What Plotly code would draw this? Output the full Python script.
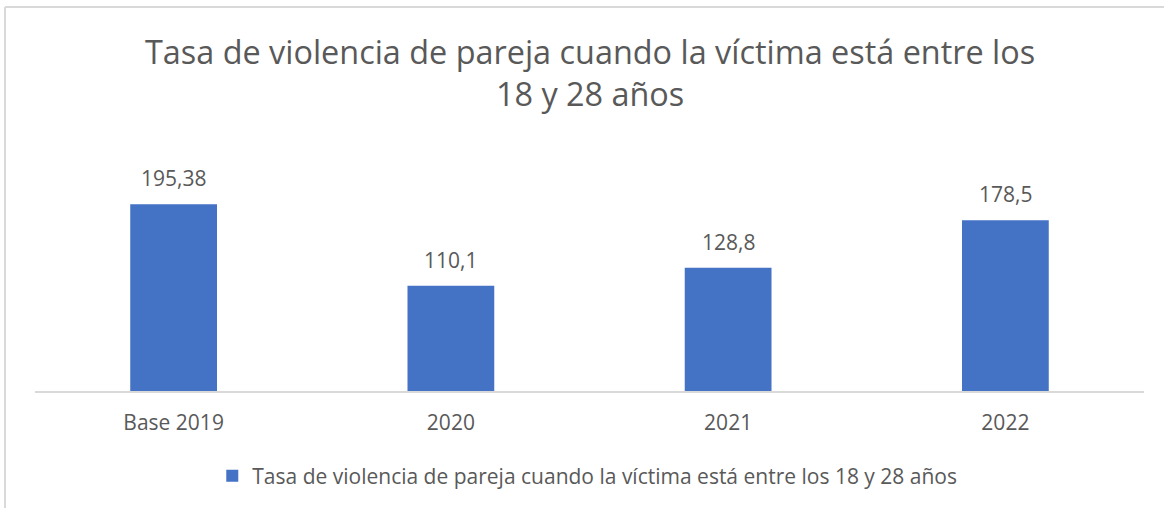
import plotly.graph_objects as go

categories = ["Base 2019", "2020", "2021", "2022"]
values = [195.38, 110.1, 128.8, 178.5]
series_name = "Tasa de violencia de pareja cuando la víctima está entre los 18 y 28 años"
title_text = "Tasa de violencia de pareja cuando la víctima está entre los<br>18 y 28 años"
labels = [str(v).replace(".", ",") for v in values]

FONT = "Open Sans"
GRAY = "#595959"
BLUE = "#4472C4"
BORDER = "#D9D9D9"

fig = go.Figure()
fig.add_trace(go.Bar(
    x=categories, y=values, name=series_name,
    marker=dict(color=BLUE, line=dict(width=0)),
    width=0.313, showlegend=True, hoverinfo="skip",
))

for i, (v, t) in enumerate(zip(values, labels)):
    fig.add_annotation(x=i, y=v, xref="x", yref="y", text=t, showarrow=False,
                       yanchor="bottom", yshift=10,
                       font=dict(family=FONT, size=21, color=GRAY))

fig.add_annotation(x=0.5, y=1, xref="paper", yref="paper", yshift=125,
                   text=title_text, showarrow=False, yanchor="top",
                   font=dict(family=FONT, size=32.4, color=GRAY))

# chart border (top and left edges visible)
fig.add_shape(type="line", xref="paper", yref="paper",
              x0=(5 - 35) / 1109, x1=(1164 - 35) / 1109, y0=(391 - 7) / 239, y1=(391 - 7) / 239,
              line=dict(color=BORDER, width=2))
fig.add_shape(type="line", xref="paper", yref="paper",
              x0=(5 - 35) / 1109, x1=(5 - 35) / 1109, y0=(391 - 7) / 239, y1=(391 - 520) / 239,
              line=dict(color=BORDER, width=2))

fig.update_layout(
    width=1164, height=508,
    margin=dict(l=35, r=20, t=152, b=117),
    paper_bgcolor="white", plot_bgcolor="white",
    font=dict(family=FONT, color=GRAY),
    showlegend=True,
    legend=dict(orientation="h", x=0.498, xanchor="center", y=-0.356, yanchor="middle",
                font=dict(family=FONT, size=21, color=GRAY), itemwidth=30),
    xaxis=dict(type="category", range=[-0.5, len(categories) - 0.5],
               showline=True, linecolor=BORDER, linewidth=1.5, showgrid=False,
               ticks="outside", tickcolor="rgba(0,0,0,0)", ticklen=12,
               tickfont=dict(family=FONT, size=21, color=GRAY), zeroline=False),
    yaxis=dict(range=[0, 250], visible=False, showgrid=False, zeroline=False),
    bargap=0.687,
)

fig.write_html("out.html", config={"displayModeBar": False},
               post_script="document.body.style.margin='0';document.body.style.overflow='hidden';")
